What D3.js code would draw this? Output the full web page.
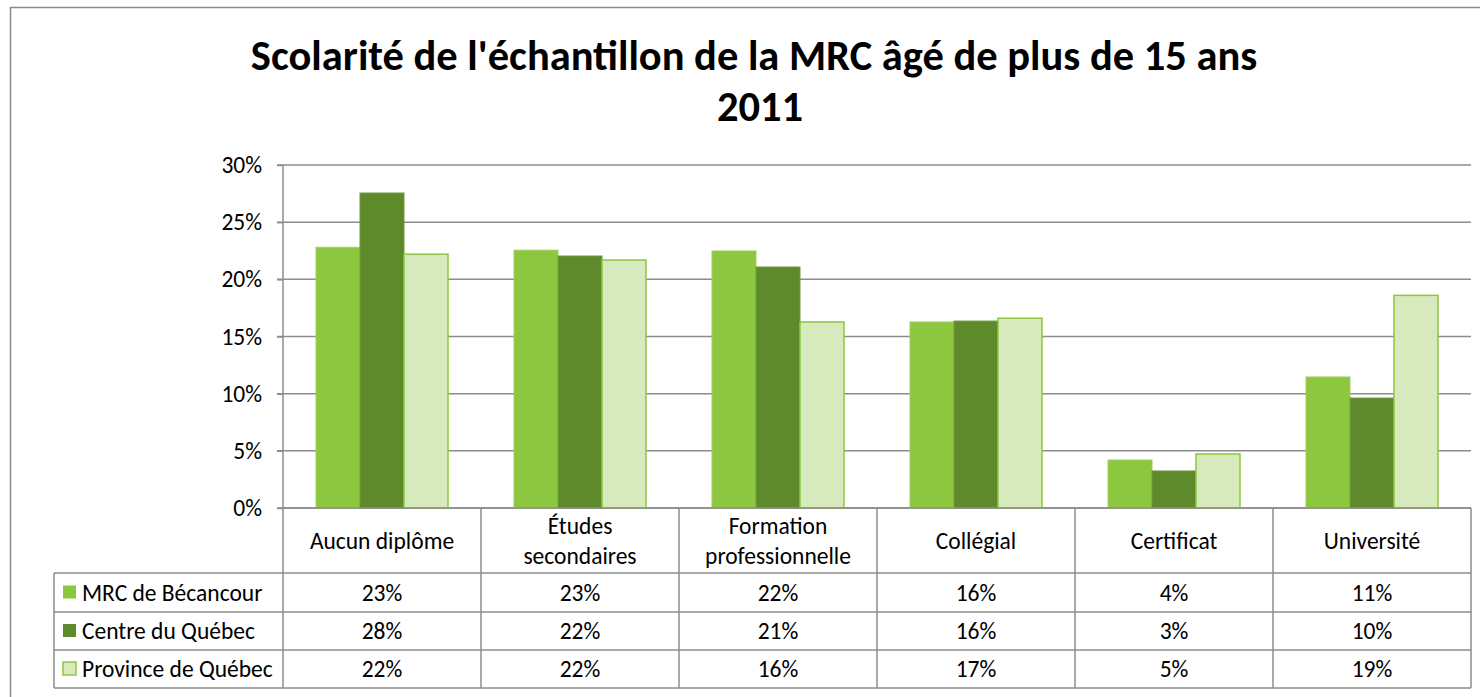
<!DOCTYPE html>
<html>
<head>
<meta charset="utf-8">
<script src="https://cdn.jsdelivr.net/npm/d3@7"></script>
<style>
  body { margin: 0; background: #fff; }
  svg text { font-family: Calibri, Carlito, Lato, sans-serif; fill: #000; }
</style>
</head>
<body>
<div id="chart"></div>
<script>
var categories = ["Aucun diplôme", "Études secondaires", "Formation professionnelle", "Collégial", "Certificat", "Université"];
var categoryLines = [["Aucun diplôme"], ["Études", "secondaires"], ["Formation", "professionnelle"], ["Collégial"], ["Certificat"], ["Université"]];
var series = ["MRC de Bécancour", "Centre du Québec", "Province de Québec"];
var mrcValues = [0.228, 0.2255, 0.2248, 0.1627, 0.042, 0.1146];
var centreValues = [0.2755, 0.2204, 0.2108, 0.1635, 0.0324, 0.0962];
var provinceValues = [0.222, 0.2169, 0.1627, 0.166, 0.0472, 0.186];
var yTicks = [0, 0.05, 0.10, 0.15, 0.20, 0.25, 0.30];

var fills = ['#8dc63f', '#5f8a2b', '#d7eabd'];
var strokes = ['#9fd05a', '#6f9a3a', '#8dc63f'];

var width = 1480, height = 697;
var plot = { left: 283, right: 1471, top: 165, bottom: 508 };
var rowH = [573, 612, 650, 688];
var tableLeft = 54;
var fontSize = "23.5px";

var allValues = [mrcValues, centreValues, provinceValues];
var data = categories.map(function(c, i){
    return { cat: c, values: series.map(function(s, j){ return { s: s, j: j, v: allValues[j][i] }; }) };
});

var svg = d3.select("#chart")
    .append("svg")
    .attr("width", width)
    .attr("height", height);

// outer chart border
svg.append("rect")
    .attr("x", 10.5).attr("y", 7.5)
    .attr("width", 1500).attr("height", 700)
    .style("fill", "none").style("stroke", "#8c8c8c").style("stroke-width", 1.5);

// title
var title = svg.append("text")
    .attr("x", 754)
    .attr("text-anchor", "middle")
    .style("font-weight", "bold")
    .style("font-size", "42.5px");
title.append("tspan").attr("x", 754).attr("y", 70).text("Scolarité de l'échantillon de la MRC âgé de plus de 15 ans");
title.append("tspan").attr("x", 760).attr("y", 121).text("2011");

var x0 = d3.scaleBand()
    .domain(categories)
    .range([plot.left, plot.right]);
var x1 = d3.scaleBand()
    .domain(series)
    .range([0, x0.bandwidth()])
    .paddingOuter(0.75);
var y = d3.scaleLinear()
    .domain([0, 0.3])
    .range([plot.bottom, plot.top]);

// gridlines
svg.append("g")
    .selectAll("line")
    .data(yTicks)
    .enter().append("line")
    .attr("x1", plot.left - 6).attr("x2", plot.right)
    .attr("y1", function(d){ return y(d); })
    .attr("y2", function(d){ return y(d); })
    .style("stroke", "#8c8c8c").style("stroke-width", 1.5);

// y axis
var yAxis = svg.append("g")
    .attr("transform", "translate(" + plot.left + ",0)")
    .call(d3.axisLeft(y).tickValues(yTicks).tickFormat(d3.format(".0%")).tickSize(6).tickPadding(15));
yAxis.select(".domain").remove();
yAxis.selectAll(".tick line").style("stroke", "#8c8c8c").style("stroke-width", 1.5);
yAxis.selectAll("text").style("font-size", fontSize).style("font-family", "Calibri, Carlito, Lato, sans-serif");

// bars
var groups = svg.append("g")
    .selectAll("g")
    .data(data)
    .enter().append("g")
    .attr("transform", function(d){ return "translate(" + x0(d.cat) + ",0)"; });

groups.selectAll("rect")
    .data(function(d){ return d.values; })
    .enter().append("rect")
    .attr("x", function(d){ return x1(d.s); })
    .attr("y", function(d){ return y(d.v); })
    .attr("width", x1.bandwidth())
    .attr("height", function(d){ return y(0) - y(d.v); })
    .style("fill", function(d){ return fills[d.j]; })
    .style("stroke", function(d){ return strokes[d.j]; })
    .style("stroke-width", function(d){ return d.j == 2 ? 1.5 : 1; });

// data table lines
var table = svg.append("g").style("stroke", "#8c8c8c").style("stroke-width", 1.5);
table.append("line")
    .attr("x1", plot.left).attr("x2", plot.left)
    .attr("y1", plot.top).attr("y2", rowH[3]);
table.selectAll(".vline")
    .data(categories)
    .enter().append("line")
    .attr("class", "vline")
    .attr("x1", function(d){ return x0(d) + x0.bandwidth(); })
    .attr("x2", function(d){ return x0(d) + x0.bandwidth(); })
    .attr("y1", plot.bottom).attr("y2", rowH[3]);
table.append("line")
    .attr("x1", tableLeft).attr("x2", tableLeft)
    .attr("y1", rowH[0]).attr("y2", rowH[3]);
table.selectAll(".hline")
    .data(rowH)
    .enter().append("line")
    .attr("class", "hline")
    .attr("x1", tableLeft).attr("x2", plot.right)
    .attr("y1", function(d){ return d; })
    .attr("y2", function(d){ return d; });
table.append("line")
    .attr("x1", plot.left).attr("x2", plot.right)
    .attr("y1", plot.bottom).attr("y2", plot.bottom);

// category headers
svg.append("g")
    .selectAll("text")
    .data(categoryLines)
    .enter().append("text")
    .attr("text-anchor", "middle")
    .style("font-size", fontSize)
    .each(function(lines, i){
        var cx = x0(categories[i]) + x0.bandwidth() / 2;
        var mid = (plot.bottom + rowH[0]) / 2;
        var start = mid + 8 - (lines.length - 1) * 15;
        var t = d3.select(this);
        lines.forEach(function(l, k){
            t.append("tspan").attr("x", cx).attr("y", start + k * 30).text(l);
        });
    });

// legend keys + values
var rows = svg.append("g")
    .selectAll("g")
    .data(series)
    .enter().append("g")
    .attr("transform", function(d, j){ return "translate(0," + (rowH[j] + rowH[j + 1]) / 2 + ")"; });

rows.append("rect")
    .attr("x", 63).attr("y", -7)
    .attr("width", 13).attr("height", 13)
    .style("fill", function(d, j){ return fills[j]; })
    .style("stroke", function(d, j){ return j == 2 ? strokes[j] : "none"; })
    .style("stroke-width", 1.5);

rows.append("text")
    .attr("x", 82).attr("y", 8)
    .style("font-size", fontSize)
    .text(function(d){ return d; });

rows.each(function(s, j){
    d3.select(this).selectAll(".val")
        .data(allValues[j])
        .enter().append("text")
        .attr("class", "val")
        .attr("x", function(v, i){ return x0(categories[i]) + x0.bandwidth() / 2; })
        .attr("y", 8)
        .attr("text-anchor", "middle")
        .style("font-size", fontSize)
        .text(function(v){ return d3.format(".0%")(v); });
});
</script>
</body>
</html>
